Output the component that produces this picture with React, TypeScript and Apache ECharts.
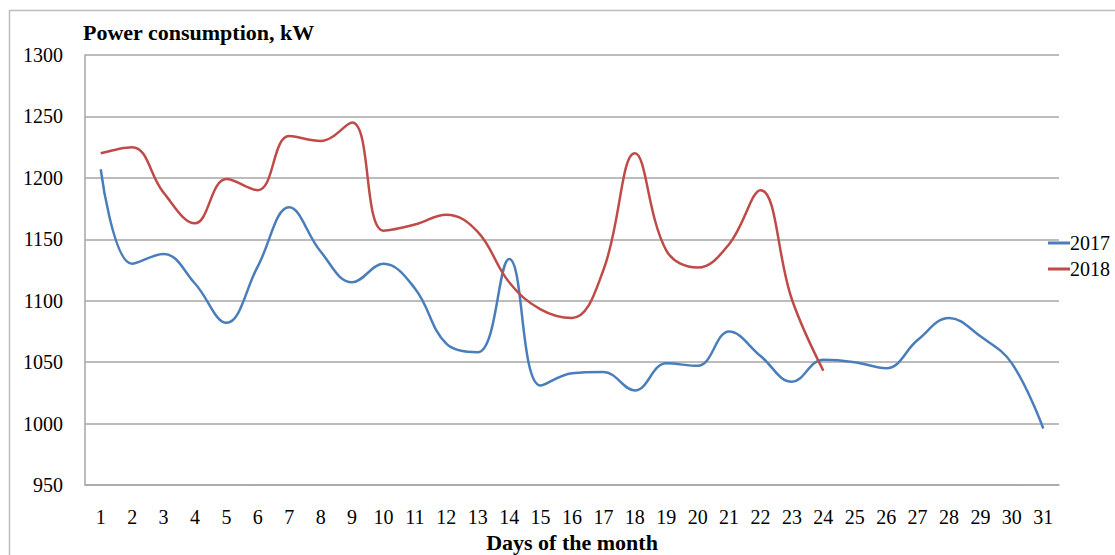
import React, { useEffect, useRef } from "react";
import * as echarts from "echarts";

const days = Array.from({ length: 31 }, (_, i) => String(i + 1));
const values2017 = [1207, 1130, 1138, 1114, 1082, 1128, 1176, 1140, 1115, 1130, 1110, 1065, 1058, 1134, 1031, 1041, 1042, 1027, 1049, 1047, 1075, 1055, 1034, 1052, 1050, 1045, 1068, 1086, 1071, 1049, 996];
const values2018 = [1220, 1225, 1188, 1163, 1199, 1190, 1234, 1230, 1245, 1157, 1162, 1170, 1156, 1115, 1093, 1086, 1125, 1220, 1141, 1127, 1146, 1190, 1101, 1043];
const seriesNames = ["2017", "2018"];
const yMin = 950;
const yMax = 1300;
const yStep = 50;

const FONT = "'Liberation Serif', 'DejaVu Serif', serif";

export default function App() {
  const ref = useRef<HTMLDivElement>(null);
  useEffect(() => {
    if (!ref.current) return;
    const chart = echarts.init(ref.current, null, { renderer: "svg" });
    chart.setOption({
      animation: false,
      backgroundColor: "#ffffff",
      textStyle: { fontFamily: FONT },
      graphic: [
        {
          type: "rect",
          shape: { x: 9.5, y: 10.5, width: 1200, height: 600 },
          style: { fill: "none", stroke: "#bdbdbd", lineWidth: 1.5 },
          silent: true,
        },
      ],
      title: {
        text: "Power consumption, kW",
        left: 78,
        top: 16,
        textStyle: { fontFamily: FONT, fontWeight: "bold", fontSize: 22, color: "#000" },
      },
      legend: {
        orient: "vertical",
        left: 1043,
        top: 228,
        itemWidth: 22,
        itemHeight: 3,
        itemGap: 6,
        icon: "rect",
        textStyle: { fontFamily: FONT, fontSize: 20, color: "#000", padding: [0, 0, 0, -5] },
        data: seriesNames,
      },
      grid: { left: 85, right: 56, top: 55, bottom: 70, containLabel: false, outerBoundsMode: "none" },
      xAxis: {
        type: "category",
        data: days,
        boundaryGap: true,
        axisLine: { show: true, lineStyle: { color: "#a6a6a6", width: 1.5 } },
        axisTick: { show: false },
        axisLabel: { fontFamily: FONT, fontSize: 20, color: "#000", margin: 22 },
        name: "Days of the month",
        nameLocation: "middle",
        nameGap: 41,
        nameTextStyle: { fontFamily: FONT, fontWeight: "bold", fontSize: 22, color: "#000" },
      },
      yAxis: {
        type: "value",
        min: yMin,
        max: yMax,
        interval: yStep,
        axisLine: { show: true, lineStyle: { color: "#a6a6a6", width: 1.5 } },
        axisTick: { show: false },
        axisLabel: {
          fontFamily: FONT,
          fontSize: 20,
          color: "#000",
          margin: 22,
          formatter: (v: number) => String(v),
        },
        splitLine: { show: true, lineStyle: { color: "#a6a6a6", width: 1.5 } },
      },
      series: [
        {
          name: seriesNames[0],
          type: "line",
          data: values2017,
          smooth: 0.4,
          showSymbol: false,
          symbol: "none",
          lineStyle: { color: "#4a7ebb", width: 2.5 },
          itemStyle: { color: "#4a7ebb" },
        },
        {
          name: seriesNames[1],
          type: "line",
          data: values2018,
          smooth: 0.4,
          showSymbol: false,
          symbol: "none",
          lineStyle: { color: "#be4b48", width: 2.5 },
          itemStyle: { color: "#be4b48" },
        },
      ],
    });
    return () => chart.dispose();
  }, []);
  return (
    <div
      ref={ref}
      style={{ position: "fixed", left: 0, top: 0, width: 1115, height: 555 }}
    />
  );
}
